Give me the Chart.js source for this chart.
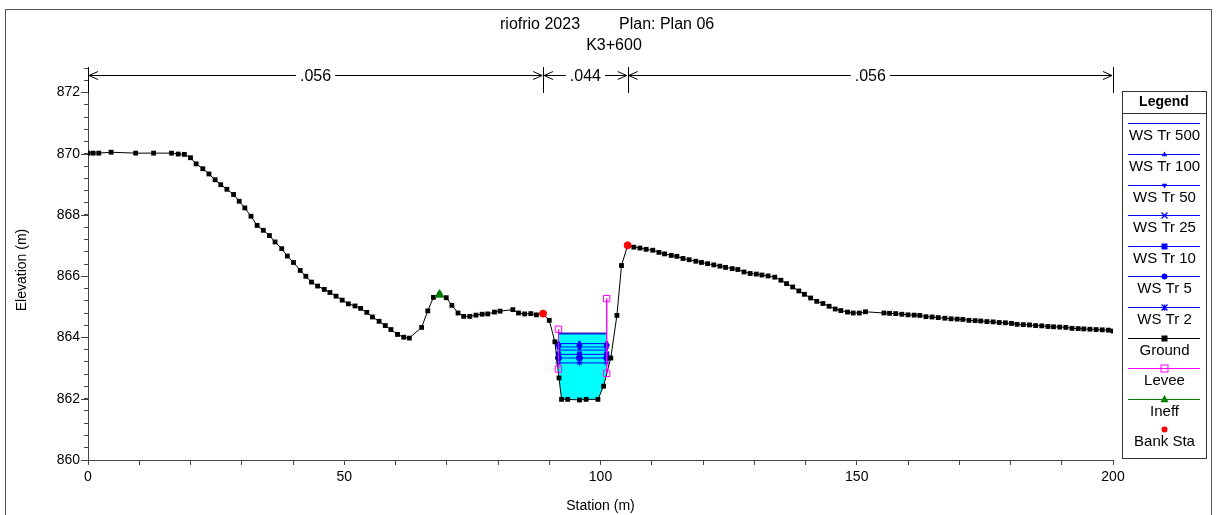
<!DOCTYPE html>
<html>
<head>
<meta charset="utf-8">
<script src="https://cdn.jsdelivr.net/npm/chart.js@4/dist/chart.umd.min.js"></script>
<style>
  html, body { margin: 0; padding: 0; background: #fff; }
</style>
</head>
<body>
<canvas id="xsChart" width="1216" height="515"></canvas>
<script>
// ground profile, station (m) / elevation (m)
const groundSta = [
  0, 1.0, 2.1, 4.5, 9.3, 12.8, 16.3, 17.6, 18.8, 20.0,
  21.1, 22.4, 23.6, 24.8, 25.9, 27.1, 28.4, 29.5, 30.6, 31.8,
  33.0, 34.2, 35.4, 36.5, 37.8, 38.9, 40.1, 41.4, 42.5, 43.6,
  44.8, 46.1, 47.2, 48.4, 49.6, 50.8, 52.1, 53.2, 54.4, 55.5,
  56.8, 58.0, 59.1, 60.4, 61.6, 62.7, 65.1, 66.3, 67.4, 68.6,
  69.9, 71.0, 72.2, 73.3, 74.5, 75.7, 76.9, 78.0, 79.3, 80.4,
  82.9, 84.0, 85.2, 86.4, 87.5, 88.8, 90.0, 91.1, 91.9, 92.4,
  93.6, 95.9, 97.2, 99.5, 100.6, 102.0, 103.2, 104.1, 105.3, 106.5,
  107.7, 108.9, 110.2, 111.4, 112.5, 113.8, 114.9, 116.1, 117.3, 118.6,
  119.7, 120.9, 122.1, 123.3, 124.4, 125.7, 126.8, 128.0, 129.2, 130.4,
  131.5, 132.7, 134.0, 135.2, 136.3, 137.5, 138.7, 139.8, 141.0, 142.2,
  143.4, 144.6, 145.8, 146.9, 148.2, 149.3, 150.5, 151.7, 155.3, 156.4,
  157.6, 158.8, 160.0, 161.2, 162.3, 163.5, 164.7, 165.9, 167.2, 168.4,
  169.6, 170.7, 171.9, 173.1, 174.2, 175.4, 176.6, 177.8, 179.0, 180.2,
  181.3, 182.5, 183.7, 184.9, 186.1, 187.3, 188.4, 189.6, 190.8, 192.0,
  193.2, 194.3, 195.5, 196.7, 197.9, 199.1, 200.0
];
const groundElev = [
  870.02, 870.02, 870.02, 870.05, 870.02, 870.02, 870.02, 869.99, 869.98, 869.87,
  869.67, 869.51, 869.34, 869.15, 868.99, 868.84, 868.67, 868.45, 868.23, 867.96,
  867.66, 867.50, 867.33, 867.12, 866.90, 866.66, 866.45, 866.19, 866.00, 865.81,
  865.68, 865.57, 865.47, 865.35, 865.22, 865.10, 865.03, 864.95, 864.82, 864.67,
  864.53, 864.39, 864.26, 864.10, 864.01, 863.98, 864.33, 864.87, 865.31, 865.40,
  865.30, 865.05, 864.80, 864.69, 864.69, 864.73, 864.76, 864.77, 864.83, 864.86,
  864.91, 864.80, 864.77, 864.78, 864.74, 864.78, 864.56, 863.86, 862.68, 861.98,
  861.98, 861.96, 861.98, 861.98, 862.41, 863.33, 864.72, 866.35, 867.01, 866.95,
  866.92, 866.88, 866.85, 866.78, 866.73, 866.68, 866.65, 866.58, 866.54, 866.49,
  866.45, 866.41, 866.37, 866.33, 866.29, 866.25, 866.22, 866.14, 866.09, 866.07,
  866.04, 866.01, 865.97, 865.87, 865.76, 865.65, 865.52, 865.41, 865.29, 865.18,
  865.11, 865.02, 864.93, 864.88, 864.83, 864.80, 864.80, 864.84, 864.80, 864.79,
  864.78, 864.76, 864.74, 864.73, 864.72, 864.68, 864.67, 864.65, 864.63, 864.61,
  864.60, 864.59, 864.56, 864.55, 864.54, 864.52, 864.51, 864.49, 864.48, 864.46,
  864.43, 864.42, 864.41, 864.39, 864.38, 864.36, 864.35, 864.34, 864.33, 864.30,
  864.29, 864.28, 864.27, 864.26, 864.25, 864.24, 864.21
];

// water surfaces
const wsLabels = ['WS Tr 500', 'WS Tr 100', 'WS Tr 50', 'WS Tr 25', 'WS Tr 10', 'WS Tr 5', 'WS Tr 2'];
const wsElev = [864.13, 863.80, 863.69, 863.59, 863.45, 863.33, 863.17];
const wsSta = [91.8, 95.9, 101.2];
const wsMarkers = [false, 'triangle', 'triangleDown', 'crossRot', 'rect', 'circle', 'star'];

// levees: station, top, toe
const leveeSta = [91.8, 101.2];
const leveeTop = [864.27, 865.27];
const leveeToe = [862.97, 862.83];

const ineffSta = [68.6];
const ineffElev = [865.40];
const bankSta = [88.8, 105.3];
const bankElev = [864.78, 867.01];

// manning n
const nBreaks = [0, 88.8, 105.3, 200];
const nValues = ['.056', '.044', '.056'];

const FONT = "'Liberation Sans', Arial, sans-serif";

const ground = groundSta.map((s, i) => ({ x: s, y: groundElev[i] }));

// water polygon for the highest profile, between the levees
const waterPoly = [
  { x: leveeSta[0], y: wsElev[0] },
  { x: leveeSta[1], y: wsElev[0] },
  { x: leveeSta[1], y: leveeToe[1] }
];
for (let i = groundSta.length - 1; i >= 0; i--) {
  if (groundSta[i] > leveeSta[0] && groundSta[i] < leveeSta[1]) waterPoly.push(ground[i]);
}
waterPoly.push({ x: leveeSta[0], y: leveeToe[0] });

const datasets = [];
datasets.push({
  label: 'water', data: waterPoly, showLine: true, fill: 'shape',
  backgroundColor: '#00ffff', borderWidth: 0, pointRadius: 0, order: 20
});
wsLabels.forEach((lab, i) => {
  const m = wsMarkers[i];
  datasets.push({
    label: lab,
    data: wsSta.map(s => ({ x: s, y: wsElev[i] })),
    showLine: true,
    borderColor: i === 0 ? '#2222cc' : '#0000ff',
    backgroundColor: '#0000ff',
    borderWidth: i === 0 ? 2 : 1,
    pointRadius: m ? 3 : 0,
    pointStyle: m === 'triangleDown' ? 'triangle' : (m || 'circle'),
    pointRotation: m === 'triangleDown' ? 180 : 0,
    pointBorderColor: '#0000ff',
    pointBackgroundColor: '#0000ff',
    legendColor: '#0000ff',
    legendMarker: m, legendLine: true,
    order: 10 + i
  });
});
datasets.push({
  label: 'Ground', data: ground, showLine: true,
  borderColor: '#000', borderWidth: 1,
  pointStyle: 'rect', pointRadius: 3.4,
  pointBackgroundColor: '#000', pointBorderColor: '#000', pointBorderWidth: 0,
  legendColor: '#000', legendMarker: 'rect', legendLine: true, order: 5
});
datasets.push({
  label: 'Levee',
  data: [
    { x: leveeSta[0], y: leveeTop[0] }, { x: leveeSta[0], y: leveeToe[0] },
    { x: (leveeSta[0] + leveeSta[1]) / 2, y: null },
    { x: leveeSta[1], y: leveeTop[1] }, { x: leveeSta[1], y: leveeToe[1] }
  ],
  showLine: true, spanGaps: false,
  borderColor: '#ff00ff', borderWidth: 1,
  pointStyle: 'rect', pointRadius: 4.5,
  pointBackgroundColor: 'rgba(0,0,0,0)', pointBorderColor: '#ff00ff', pointBorderWidth: 1,
  legendColor: '#ff00ff', legendMarker: 'openRect', legendLine: true, order: 3
});
datasets.push({
  label: 'Ineff', data: ineffSta.map((s, i) => ({ x: s, y: ineffElev[i] })),
  showLine: false, borderColor: '#008000',
  pointStyle: 'triangle', pointRadius: 5,
  pointBackgroundColor: '#008000', pointBorderColor: '#008000',
  legendColor: '#008000', legendMarker: 'triangle', legendLine: true, order: 2
});
datasets.push({
  label: 'Bank Sta', data: bankSta.map((s, i) => ({ x: s, y: bankElev[i] })),
  showLine: false, borderColor: '#ff0000',
  pointStyle: 'circle', pointRadius: 3.5,
  pointBackgroundColor: '#ff0000', pointBorderColor: '#ff0000',
  legendColor: '#ff0000', legendMarker: 'circle', legendLine: false, order: 1
});

function drawMarker(ctx, style, x, y, r, color) {
  ctx.save();
  ctx.fillStyle = color; ctx.strokeStyle = color; ctx.lineWidth = 1;
  ctx.beginPath();
  if (style === 'triangle') {
    ctx.moveTo(x, y - r); ctx.lineTo(x + r * 0.9, y + r * 0.6); ctx.lineTo(x - r * 0.9, y + r * 0.6); ctx.closePath(); ctx.fill();
  } else if (style === 'triangleDown') {
    ctx.moveTo(x, y + r); ctx.lineTo(x + r * 0.9, y - r * 0.6); ctx.lineTo(x - r * 0.9, y - r * 0.6); ctx.closePath(); ctx.fill();
  } else if (style === 'rect') {
    ctx.fillRect(x - r, y - r, 2 * r, 2 * r);
  } else if (style === 'openRect') {
    ctx.strokeRect(x - r + 0.5, y - r + 0.5, 2 * r - 1, 2 * r - 1);
  } else if (style === 'circle') {
    ctx.arc(x, y, r, 0, Math.PI * 2); ctx.fill();
  } else if (style === 'crossRot' || style === 'star') {
    ctx.lineWidth = 1.3;
    ctx.moveTo(x - r, y - r); ctx.lineTo(x + r, y + r);
    ctx.moveTo(x + r, y - r); ctx.lineTo(x - r, y + r);
    if (style === 'star') { ctx.moveTo(x, y - r); ctx.lineTo(x, y + r); }
    ctx.stroke();
  }
  ctx.restore();
}

const decor = {
  id: 'decor',
  beforeDraw(chart) {
    const ctx = chart.ctx;
    ctx.save();
    ctx.fillStyle = '#fff';
    ctx.fillRect(0, 0, chart.width, chart.height);
    ctx.strokeStyle = '#555';
    ctx.lineWidth = 1;
    ctx.strokeRect(5.5, 9.5, 1206, 520);
    ctx.restore();
  },
  afterDraw(chart) {
    const ctx = chart.ctx;
    const xs = chart.scales.x, ys = chart.scales.y;
    const area = chart.chartArea;
    ctx.save();
    ctx.fillStyle = '#000';
    ctx.strokeStyle = '#000';
    ctx.lineWidth = 1;

    // titles
    ctx.font = '16px ' + FONT;
    ctx.textBaseline = 'middle';
    ctx.textAlign = 'left';
    ctx.fillText('riofrio 2023', 500, 25);
    ctx.fillText('Plan: Plan 06', 619, 25);
    ctx.textAlign = 'center';
    ctx.fillText('K3+600', 614, 46);

    // axis titles
    ctx.font = '14px ' + FONT;
    ctx.fillText('Station (m)', (area.left + area.right) / 2, 506);
    ctx.save();
    ctx.translate(22, (area.top + area.bottom) / 2 + 6);
    ctx.rotate(-Math.PI / 2);
    ctx.fillText('Elevation (m)', 0, 0);
    ctx.restore();

    // longer major ticks on y
    ctx.strokeStyle = '#444';
    for (let v = 860; v <= 872; v += 2) {
      const py = Math.round(ys.getPixelForValue(v)) + 0.5;
      ctx.beginPath(); ctx.moveTo(area.left - 7, py); ctx.lineTo(area.left, py); ctx.stroke();
    }

    // manning n brackets
    ctx.strokeStyle = '#000';
    const by = area.top + 7.5;
    nBreaks.forEach(s => {
      const px = Math.round(xs.getPixelForValue(s)) + 0.5;
      ctx.beginPath(); ctx.moveTo(px, area.top - 1); ctx.lineTo(px, area.top + 25); ctx.stroke();
    });
    ctx.font = '16px ' + FONT;
    for (let i = 0; i < nValues.length; i++) {
      const x1 = xs.getPixelForValue(nBreaks[i]) + 1;
      const x2 = xs.getPixelForValue(nBreaks[i + 1]) - 1;
      ctx.beginPath(); ctx.moveTo(x1, by); ctx.lineTo(x2, by);
      ctx.moveTo(x1 + 9, by - 4); ctx.lineTo(x1, by); ctx.lineTo(x1 + 9, by + 4);
      ctx.moveTo(x2 - 9, by - 4); ctx.lineTo(x2, by); ctx.lineTo(x2 - 9, by + 4);
      ctx.stroke();
      const mx = (x1 + x2) / 2;
      const w = ctx.measureText(nValues[i]).width;
      ctx.fillStyle = '#fff';
      ctx.fillRect(mx - w / 2 - 4, by - 8, w + 8, 16);
      ctx.fillStyle = '#000';
      ctx.fillText(nValues[i], mx, by + 1);
    }

    // legend
    const lx = 1122, rx = 1206, top = 91, bottom = 458;
    ctx.fillStyle = '#fff';
    ctx.fillRect(lx, top, rx - lx, bottom - top);
    ctx.strokeStyle = '#333';
    ctx.strokeRect(lx + 0.5, top + 0.5, rx - lx, bottom - top);
    ctx.beginPath(); ctx.moveTo(lx, 113.5); ctx.lineTo(rx, 113.5); ctx.stroke();
    ctx.fillStyle = '#000';
    ctx.font = 'bold 14px ' + FONT;
    ctx.fillText('Legend', (lx + rx) / 2, 102);
    ctx.font = '15px ' + FONT;
    const items = chart.data.datasets.filter(d => d.legendLine !== undefined);
    items.forEach((d, i) => {
      const ly = Math.round(123.3 + i * 30.6) + 0.5;
      const cx = (lx + rx) / 2 + 0.5;
      if (d.legendLine) {
        ctx.strokeStyle = d.legendColor;
        ctx.lineWidth = 1;
        ctx.beginPath(); ctx.moveTo(1128, ly); ctx.lineTo(1200, ly); ctx.stroke();
      }
      if (d.legendMarker) {
        const r = d.label === 'Ineff' ? 4.5 : (d.legendMarker === 'openRect' ? 4 : 3);
        drawMarker(ctx, d.legendMarker, cx, ly, r, d.legendColor);
      }
      ctx.fillStyle = '#000';
      ctx.fillText(d.label, cx, ly + 12);
    });
    ctx.restore();
  }
};

const ctx = document.getElementById('xsChart').getContext('2d');
const xsChart = new Chart(ctx, {
  type: 'scatter',
  data: { datasets: datasets },
  options: {
    responsive: false,
    animation: false,
    devicePixelRatio: 1,
    events: [],
    layout: { padding: { left: 0, right: 103, top: 68, bottom: 0 } },
    plugins: { legend: { display: false }, tooltip: { enabled: false } },
    scales: {
      x: {
        type: 'linear', min: 0, max: 200,
        afterFit: s => { s.height = 55; },
        border: { color: '#444', width: 1 },
        grid: { drawOnChartArea: false, tickLength: 5, color: '#444' },
        ticks: {
          stepSize: 10, padding: 4, color: '#000', autoSkip: false, maxRotation: 0,
          font: { family: FONT, size: 14 },
          callback: v => (v % 50 === 0 ? String(v) : '')
        }
      },
      y: {
        type: 'linear', min: 860, max: 872.8,
        afterFit: s => { s.width = 88; },
        border: { color: '#444', width: 1 },
        grid: { drawOnChartArea: false, tickLength: 4, color: '#444' },
        ticks: {
          stepSize: 0.4, padding: 4, color: '#000', autoSkip: false,
          font: { family: FONT, size: 14 },
          callback: v => {
            const r = Math.round(v);
            return Math.abs(v - r) < 1e-6 && r % 2 === 0 && r <= 872 ? String(r) : '';
          }
        }
      }
    }
  },
  plugins: [decor]
});
</script>
</body>
</html>
